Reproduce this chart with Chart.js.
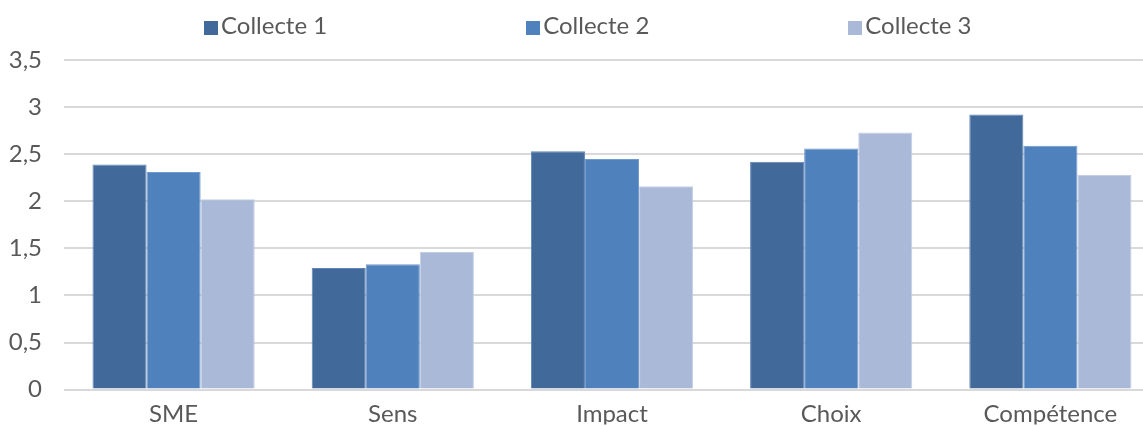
<!DOCTYPE html>
<html lang="fr">
<head>
<meta charset="utf-8">
<title>Collectes</title>
<script src="https://cdn.jsdelivr.net/npm/chart.js@4/dist/chart.umd.min.js"></script>
<style>
  html, body { margin: 0; padding: 0; background: #ffffff; overflow: hidden; }
  #wrap { position: relative; width: 1143px; height: 426px; overflow: hidden; }
  #legend {
    position: absolute; top: 13px; left: 204px;
    display: flex; gap: 199px;
    font-family: Lato, "Open Sans", sans-serif; font-size: 24px; line-height: 24px;
    color: #595959; white-space: nowrap;
  }
  #legend .item { display: flex; align-items: center; }
  #legend .box { width: 14px; height: 14px; margin-right: 3px; margin-top: 5px; }
</style>
</head>
<body>
<div id="wrap">
  <canvas id="chart" width="1160" height="426"></canvas>
  <div id="legend"></div>
</div>
<script>
// Catégories et valeurs moyennes par collecte
const categories = ['SME', 'Sens', 'Impact', 'Choix', 'Compétence'];
const seriesNames = ['Collecte 1', 'Collecte 2', 'Collecte 3'];
const collecte1 = [2.39, 1.29, 2.53, 2.42, 2.92];
const collecte2 = [2.31, 1.33, 2.45, 2.56, 2.59];
const collecte3 = [2.02, 1.46, 2.16, 2.73, 2.28];
const yTickLabels = ['0', '0,5', '1', '1,5', '2', '2,5', '3', '3,5'];

const fills = ['#416A9B', '#4F81BD', '#AAB9D7'];
const edges = ['#5F84B4', '#7299CB', '#C3CEE4'];
const textColor = '#595959';
const fontFamily = 'Lato, "Open Sans", sans-serif';

const seriesValues = [collecte1, collecte2, collecte3];

// Légende HTML à partir des séries
const legendEl = document.getElementById('legend');
seriesNames.forEach((name, i) => {
  const item = document.createElement('div');
  item.className = 'item';
  const box = document.createElement('span');
  box.className = 'box';
  box.style.background = fills[i];
  const label = document.createElement('span');
  label.textContent = name;
  item.appendChild(box);
  item.appendChild(label);
  legendEl.appendChild(item);
});

new Chart(document.getElementById('chart'), {
  type: 'bar',
  data: {
    labels: categories,
    datasets: seriesNames.map((name, i) => ({
      label: name,
      data: seriesValues[i],
      backgroundColor: fills[i],
      borderColor: edges[i],
      borderWidth: 1,
      categoryPercentage: 0.74,
      barPercentage: 1.0
    }))
  },
  options: {
    responsive: false,
    animation: false,
    layout: { padding: { top: 60, right: 0, bottom: 0, left: 0 } },
    plugins: {
      legend: { display: false },
      tooltip: { enabled: false }
    },
    scales: {
      x: {
        grid: { display: false, drawTicks: false },
        border: { display: false },
        ticks: {
          color: textColor,
          font: { family: fontFamily, size: 24 },
          padding: 10,
          maxRotation: 0
        },
        afterFit: (scale) => { scale.height = 35; }
      },
      y: {
        min: 0,
        max: 3.5,
        grid: { color: '#D9D9D9', lineWidth: 2, drawTicks: false },
        border: { display: false },
        ticks: {
          stepSize: 0.5,
          color: textColor,
          font: { family: fontFamily, size: 24 },
          padding: 22,
          callback: (value, index) => yTickLabels[index]
        },
        afterFit: (scale) => { scale.width = 64; }
      }
    }
  }
});
</script>
</body>
</html>
